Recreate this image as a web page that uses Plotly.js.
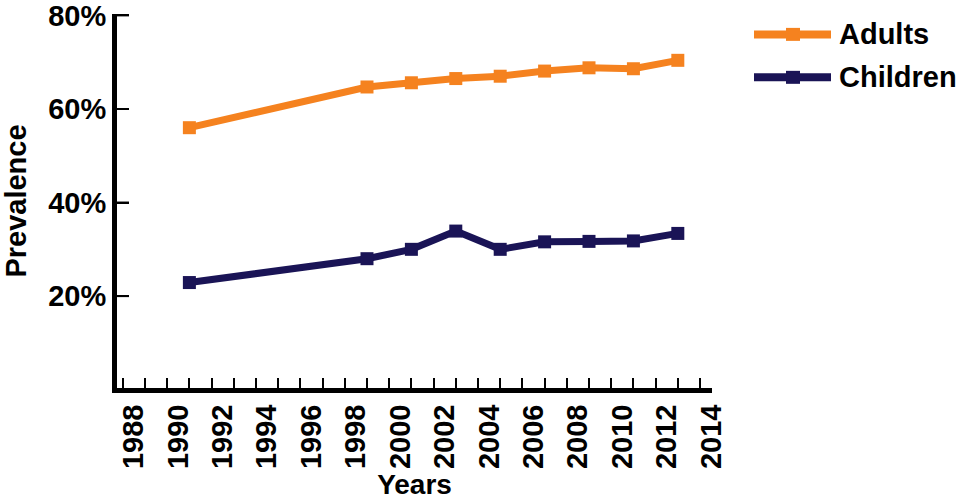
<!DOCTYPE html>
<html>
<head>
<meta charset="utf-8">
<script src="https://cdn.plot.ly/plotly-3.0.1.min.js"></script>
<style>html,body{margin:0;padding:0;background:#fff;}#chart{width:962px;height:504px;}</style>
</head>
<body>
<div id="chart"></div>
<script>
// Data
var years = [1990.5, 1998.5, 2000.5, 2002.5, 2004.5, 2006.5, 2008.5, 2010.5, 2012.5];
var adults = [56.0, 64.7, 65.6, 66.5, 67.0, 68.1, 68.8, 68.6, 70.4];
var children = [22.9, 28.0, 30.0, 33.9, 30.0, 31.6, 31.7, 31.8, 33.4];
var xTickVals = [1988, 1990, 1992, 1994, 1996, 1998, 2000, 2002, 2004, 2006, 2008, 2010, 2012, 2014];
var xTickText = ['1988','1990','1992','1994','1996','1998','2000','2002','2004','2006','2008','2010','2012','2014'];
var yTickVals = [20, 40, 60, 80];
var yTickText = ['20%', '40%', '60%', '80%'];
var seriesNames = ['Adults', 'Children'];
var seriesColors = ['#F5821F', '#1A1456'];

var FONT = '"Liberation Sans", Arial, sans-serif';
var L = 117, R = 250, T = 13.6, B = 116;
var W = 962, H = 504;
var plotW = W - L - R, plotH = H - T - B;
function px2x(p) { return (p - L) / plotW; }
function px2y(p) { return 1 - (p - T) / plotH; }

var traces = [
  {x: years, y: adults, name: seriesNames[0], type: 'scatter', mode: 'lines+markers',
   line: {color: seriesColors[0], width: 7}, marker: {symbol: 'square', size: 13, color: seriesColors[0]}},
  {x: years, y: children, name: seriesNames[1], type: 'scatter', mode: 'lines+markers',
   line: {color: seriesColors[1], width: 7}, marker: {symbol: 'square', size: 13, color: seriesColors[1]}}
];

var shapes = [], annotations = [];
// inward y tick marks at the y tick values (drawn through the y scale)
for (var k = 0; k < yTickVals.length; k++) {
  shapes.push({type: 'line', xref: 'paper', yref: 'y', x0: 0, x1: 12 / plotW, y0: yTickVals[k], y1: yTickVals[k],
    line: {color: '#000', width: 2}});
}
// Manual legend (long line samples like the reference)
var legendRows = [34, 77];
for (var i = 0; i < seriesNames.length; i++) {
  var yy = px2y(legendRows[i]);
  shapes.push({type: 'line', xref: 'paper', yref: 'paper', x0: px2x(754), x1: px2x(831), y0: yy, y1: yy,
    line: {color: seriesColors[i], width: 8}});
  shapes.push({type: 'rect', xref: 'paper', yref: 'paper', x0: px2x(786), x1: px2x(800),
    y0: px2y(legendRows[i] + 6.5), y1: px2y(legendRows[i] - 6.5),
    fillcolor: seriesColors[i], line: {width: 0}});
  annotations.push({xref: 'paper', yref: 'paper', x: px2x(837), y: yy, xanchor: 'left', yanchor: 'middle',
    showarrow: false, text: seriesNames[i], font: {family: FONT, size: 29, color: '#000', weight: 'bold'}});
}

var layout = {
  width: W, height: H,
  margin: {l: L, r: R, t: T, b: B},
  paper_bgcolor: '#fff', plot_bgcolor: '#fff',
  showlegend: false,
  font: {family: FONT, size: 29, color: '#000', weight: 'bold'},
  xaxis: {
    range: [1987.24, 2014.04],
    tickmode: 'array', tickvals: xTickVals, ticktext: xTickText,
    tickangle: -90, ticks: '', showgrid: false, zeroline: false,
    showline: true, linecolor: '#000', linewidth: 5,
    tickfont: {family: FONT, size: 29, color: '#000', weight: 'bold'},
    minor: {tickmode: 'linear', tick0: 1987.5, dtick: 1, ticks: 'inside', ticklen: 10, tickwidth: 2, tickcolor: '#000', showgrid: false},
    title: {text: 'Years', font: {family: FONT, size: 28, color: '#000', weight: 'bold'}, standoff: 4},
    automargin: false, fixedrange: true
  },
  yaxis: {
    range: [0.36, 80.3],
    tickmode: 'array', tickvals: yTickVals, ticktext: yTickText,
    ticks: 'inside', ticklen: 12, tickwidth: 2, tickcolor: '#000',
    ticklabeloverflow: 'allow',
    showgrid: false, zeroline: false,
    showline: true, linecolor: '#000', linewidth: 5,
    tickfont: {family: FONT, size: 29, color: '#000', weight: 'bold'},
    title: {text: 'Prevalence', font: {family: FONT, size: 29, color: '#000', weight: 'bold'}, standoff: 16},
    automargin: false, fixedrange: true
  },
  shapes: shapes,
  annotations: annotations
};

Plotly.newPlot('chart', traces, layout, {displayModeBar: false, staticPlot: true});
</script>
</body>
</html>
